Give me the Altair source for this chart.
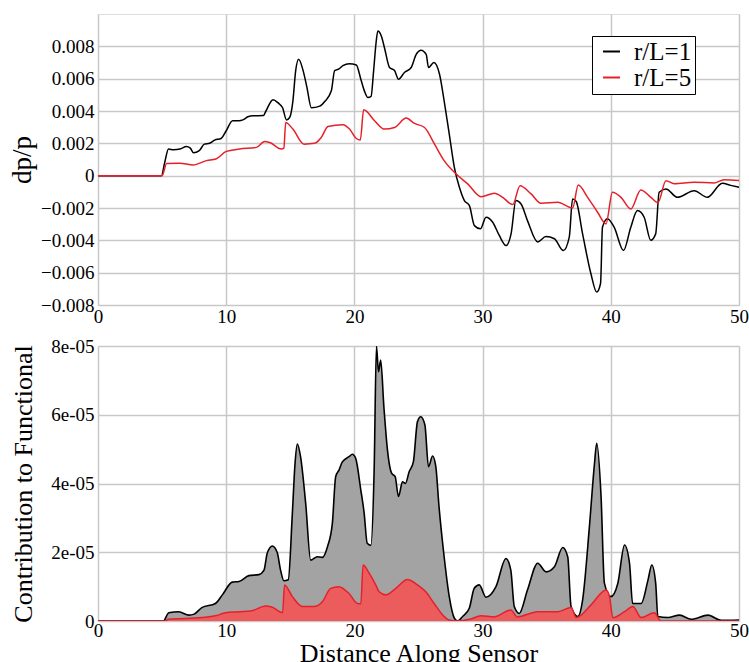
import altair as alt
import pandas as pd

# ---- top panel: dp/p (units of 1e-3) ----
x_top_rl1 = [0, 4.95, 5.2, 5.5, 5.9, 6.4, 6.9, 7.2, 7.45, 7.9, 8.3, 8.7, 9.1, 9.6, 10.0, 10.5, 11.0, 11.3,
             11.7, 12.1, 12.9, 13.1, 13.65, 14.05, 14.4, 14.7, 14.95, 15.2, 15.42, 15.65, 16.0, 16.3, 16.64,
             17.3, 17.7, 18.2, 18.46, 18.8, 19.1, 19.6, 20.15, 20.5, 20.8, 21.05, 21.3, 21.5, 21.7, 21.83,
             22.1, 22.35, 22.74, 23.13, 23.44, 23.9, 24.43, 24.82, 25.2, 25.6, 25.78, 26.2, 26.64, 27.0,
             27.4, 27.8, 28.19, 28.58, 28.97, 29.36, 29.83, 30.27, 30.79, 31.3, 31.83, 32.22, 32.6, 33.0,
             33.5, 34.3, 34.94, 35.6, 36.3, 36.76, 37.02, 37.3, 37.8, 38.45, 38.9, 39.2, 39.35, 39.74,
             40.26, 40.99, 41.56, 42.08, 42.6, 43.12, 43.5, 43.77, 44.3, 45.2, 46.5, 47.53, 48.7, 49.35, 50]
y_top_rl1 = [0, 0, 0.8, 1.65, 1.6, 1.65, 1.8, 1.7, 1.42, 1.55, 1.95, 2.0, 2.2, 2.3, 2.78, 3.4, 3.4, 3.45,
             3.64, 3.7, 3.72, 4.0, 4.7, 4.5, 4.2, 3.45, 3.6, 4.6, 6.5, 7.2, 6.5, 5.45, 4.2,
             4.3, 4.6, 5.25, 6.5, 6.6, 6.8, 6.93, 6.85, 5.97, 5.2, 4.83, 4.9, 6.5, 8.3, 8.95,
             8.64, 7.9, 6.69, 6.5, 5.97, 6.38, 6.69, 7.5, 7.76, 7.5, 6.69, 7.0, 6.27, 4.63,
             2.57, 0.5, -0.72, -1.54, -1.85, -3.09, -3.29, -2.57, -2.88, -3.7, -4.32, -3.6, -1.54, -1.75,
             -2.78, -4.1, -3.77, -3.9, -4.63, -3.8, -1.44, -1.6, -3.6, -6.07, -7.2, -6.67, -3.19, -2.67,
             -3.19, -4.63, -3.19, -2.16, -2.57, -4.0, -3.6, -1.03, -0.82, -1.34, -0.93, -1.34, -0.47, -0.6, -0.72]

x_top_rl5 = [0, 5.0, 5.35, 6.39, 7.42, 8.46, 9.2, 10.0, 11.04, 12.36, 13.0, 13.4, 14.3, 14.5, 14.64, 15.2,
             16.07, 16.9, 17.42, 17.94, 19.1, 19.6, 20.15, 20.46, 20.72, 21.57, 22.35, 23.13, 24.04, 24.69,
             25.47, 26.25, 27.0, 27.94, 28.84, 29.88, 30.92, 31.57, 32.35, 32.92, 33.78, 34.56, 35.85,
             37.02, 37.46, 38.19, 38.97, 39.62, 40.13, 40.79, 41.56, 42.34, 43.12, 43.68, 44.3, 44.94,
             46.5, 48.05, 48.83, 50]
y_top_rl5 = [0, 0, 0.76, 0.77, 0.66, 0.93, 1.03, 1.5, 1.65, 1.75, 2.12, 2.05, 1.65, 1.7, 3.29, 2.88,
             1.95, 2.0, 2.37, 3.04, 3.15, 2.9, 2.3, 2.2, 4.07, 3.4, 2.88, 2.98, 3.56, 3.23,
             2.98, 1.95, 0.93, 0.1, -0.51, -1.3, -1.09, -1.34, -1.79, -0.62, -1.13, -1.71, -1.65,
             -2.0, -0.58, -1.34, -2.26, -2.98, -1.03, -1.34, -2.06, -0.88, -1.34, -1.67, -0.31, -0.5,
             -0.4, -0.45, -0.25, -0.3]

# ---- bottom panel: contribution to functional (units of 1e-5) ----
x_bot_rl1 = [0, 5.1, 5.52, 6.3, 7.09, 7.5, 8.1, 9.16, 9.7, 10.47, 11.0, 11.77, 12.55, 12.95, 13.2, 13.6,
             13.98, 14.24, 14.5, 14.84, 15.16, 15.37, 15.55, 15.8, 16.2, 16.59, 17.1, 17.5, 17.9, 18.28,
             18.54, 18.8, 19.06, 19.58, 19.84, 20.1, 20.5, 20.76, 21.0, 21.28, 21.54, 21.72, 21.88, 22.05,
             22.3, 22.58, 22.9, 23.18, 23.44, 23.75, 23.98, 24.27, 24.6, 24.92, 25.18, 25.5, 25.78, 26.1,
             26.35, 26.6, 27.0, 27.4, 27.8, 28.05, 28.44, 28.96, 29.35, 29.74, 30.26, 31.04, 31.82, 32.2,
             32.47, 32.86, 33.5, 34.3, 34.95, 35.6, 36.25, 36.64, 36.9, 37.42, 37.8, 38.33, 38.73, 38.9,
             39.24, 39.5, 40.0, 40.55, 41.07, 41.46, 41.7, 42.37, 42.9, 43.2, 43.5, 43.67, 44.45, 45.37,
             46.27, 47.58, 48.6, 50]
y_bot_rl1 = [0, 0, 0.24, 0.27, 0.17, 0.2, 0.39, 0.51, 0.76, 1.13, 1.15, 1.32, 1.35, 1.48, 1.97, 2.18,
             1.99, 1.48, 1.17, 1.2, 3.13, 4.59, 5.15, 4.78, 3.42, 1.77, 1.87, 1.85, 2.16, 2.84,
             4.2, 4.39, 4.63, 4.78, 4.85, 4.73, 3.81, 3.14, 2.26, 2.2, 4.39, 8.0, 7.25, 7.59,
             6.23, 4.97, 4.3, 4.2, 3.62, 4.05, 4.0, 4.34, 4.63, 5.8, 5.94, 5.7, 4.49, 4.8,
             4.49, 3.33, 1.87, 0.71, 0.08, 0.0, 0.13, 0.37, 0.95, 1.05, 0.69, 1.0, 1.82, 1.48,
             0.42, 0.22, 0.9, 1.68, 1.43, 1.58, 2.14, 1.87, 0.42, 0.13, 0.61, 2.74, 4.59, 5.17,
             3.62, 1.1, 0.71, 1.1, 2.21, 1.68, 0.51, 0.51, 1.19, 1.63, 1.1, 0.13, 0.1, 0.17,
             0.05, 0.17, 0.02, 0.03]

x_bot_rl5 = [0, 5.2, 5.5, 8.1, 9.16, 9.95, 11.0, 12.0, 13.07, 13.6, 14.4, 14.55, 15.16, 15.94, 16.84, 17.5,
             18.15, 18.8, 19.58, 20.23, 20.5, 20.68, 21.15, 21.66, 21.93, 22.45, 23.23, 24.14, 24.92,
             25.57, 26.22, 26.9, 27.4, 28.0, 29.0, 29.87, 30.9, 32.2, 32.7, 34.3, 35.86, 36.9, 37.3,
             38.46, 39.63, 39.9, 40.16, 41.07, 41.72, 42.37, 43.4, 43.9, 50]
y_bot_rl5 = [0, 0, 0.05, 0.1, 0.15, 0.24, 0.27, 0.3, 0.44, 0.4, 0.24, 1.05, 0.71, 0.42, 0.42, 0.56,
             0.95, 1.0, 0.8, 0.51, 0.5, 1.63, 1.39, 1.05, 0.85, 0.76, 0.95, 1.21, 1.05,
             0.85, 0.51, 0.17, 0.03, 0.0, 0.05, 0.15, 0.12, 0.32, 0.12, 0.27, 0.27, 0.39, 0.1,
             0.47, 0.9, 0.71, 0.1, 0.27, 0.42, 0.1, 0.24, 0.0, 0.0]

series_names = ["r/L=1", "r/L=5"]
series_colors = ["#000000", "#e6202a"]
x_ticks = [0, 10, 20, 30, 40, 50]
y_top_ticks = [-0.008, -0.006, -0.004, -0.002, 0, 0.002, 0.004, 0.006, 0.008]
y_bot_ticks = [0, 2e-05, 4e-05, 6e-05, 8e-05]

FONT = "Liberation Serif"

top_df = pd.concat([
    pd.DataFrame({"x": x_top_rl1, "y": [v * 1e-3 for v in y_top_rl1], "s": series_names[0]}),
    pd.DataFrame({"x": x_top_rl5, "y": [v * 1e-3 for v in y_top_rl5], "s": series_names[1]}),
])
bot1_df = pd.DataFrame({"x": x_bot_rl1, "y": [v * 1e-5 for v in y_bot_rl1]})
bot5_df = pd.DataFrame({"x": x_bot_rl5, "y": [v * 1e-5 for v in y_bot_rl5]})

W = 641

def x_axis(**kw):
    return alt.Axis(values=x_ticks, labelFontSize=19, labelFont=FONT, ticks=False, tickSize=0,
                    labelFlush=False, domain=False, gridColor="#c8c8c8", gridWidth=1.5,
                    labelColor="#000", **kw)

top = alt.Chart(top_df).mark_line(strokeWidth=1.5, interpolate="monotone", clip=True).encode(
    x=alt.X("x:Q", scale=alt.Scale(domain=[0, 50], nice=False),
            axis=x_axis(title=None, labelPadding=2)),
    y=alt.Y("y:Q", scale=alt.Scale(domain=[-0.008, 0.01], nice=False, zero=False),
            axis=alt.Axis(values=y_top_ticks, title="dp/p", titleFontSize=27, titleFont=FONT,
                          titleFontWeight="normal", titlePadding=4, titleColor="#000",
                          labelExpr="abs(datum.value) < 1e-9 ? '0' : format(datum.value, '.3f')",
                          labelFontSize=19, labelFont=FONT, labelPadding=4, ticks=False, tickSize=0,
                          domain=False, gridColor="#c8c8c8", gridWidth=1.5, labelColor="#000")),
    color=alt.Color("s:N", scale=alt.Scale(domain=series_names, range=series_colors),
                    legend=alt.Legend(title=None, orient="none", legendX=494, legendY=22,
                                      fillColor="white", strokeColor="black", padding=3,
                                      symbolType="stroke", symbolSize=289, symbolStrokeWidth=2,
                                      symbolOffset=4, labelFontSize=25, labelFont=FONT,
                                      labelOffset=10, rowPadding=0, labelColor="#000")),
).properties(width=W, height=291)

bx = alt.X("x:Q", scale=alt.Scale(domain=[0, 50], nice=False),
           axis=x_axis(title="Distance Along Sensor", titleFontSize=26, titleFont=FONT,
                       titleFontWeight="normal", titlePadding=0, titleColor="#000", labelPadding=0))
by = alt.Y("y:Q", scale=alt.Scale(domain=[0, 8e-05], nice=False),
           axis=alt.Axis(values=y_bot_ticks, title="Contribution to Functional", titleFontSize=26,
                         titleFont=FONT, titleFontWeight="normal", titlePadding=14, titleColor="#000",
                         labelExpr="datum.value == 0 ? '0' : round(datum.value * 1e5) + 'e-05'",
                         labelFontSize=19, labelFont=FONT, labelPadding=4, ticks=False, tickSize=0,
                         domain=False, gridColor="#c8c8c8", gridWidth=1.5, labelColor="#000"))

b1_area = alt.Chart(bot1_df).mark_area(color="#a3a3a3", interpolate="monotone", clip=True).encode(x=bx, y=by)
b1_line = alt.Chart(bot1_df).mark_line(color="#000000", strokeWidth=1.6, interpolate="monotone", clip=True).encode(x=bx, y=by)
b5_area = alt.Chart(bot5_df).mark_area(color="#ec5c5c", interpolate="monotone", clip=True).encode(x=bx, y=by)
b5_line = alt.Chart(bot5_df).mark_line(color="#e6202a", strokeWidth=1.5, interpolate="monotone", clip=True).encode(x=bx, y=by)

bottom = alt.layer(b1_area, b1_line, b5_area, b5_line).properties(width=W, height=275)

chart = alt.vconcat(top, bottom, spacing=9).properties(
    padding={"left": 8, "top": 13, "right": 0, "bottom": 0}
).configure_view(stroke="#000000", strokeWidth=1.5).configure(background="white")

chart.save("out.html", embed_options={"renderer": "svg", "actions": False})
